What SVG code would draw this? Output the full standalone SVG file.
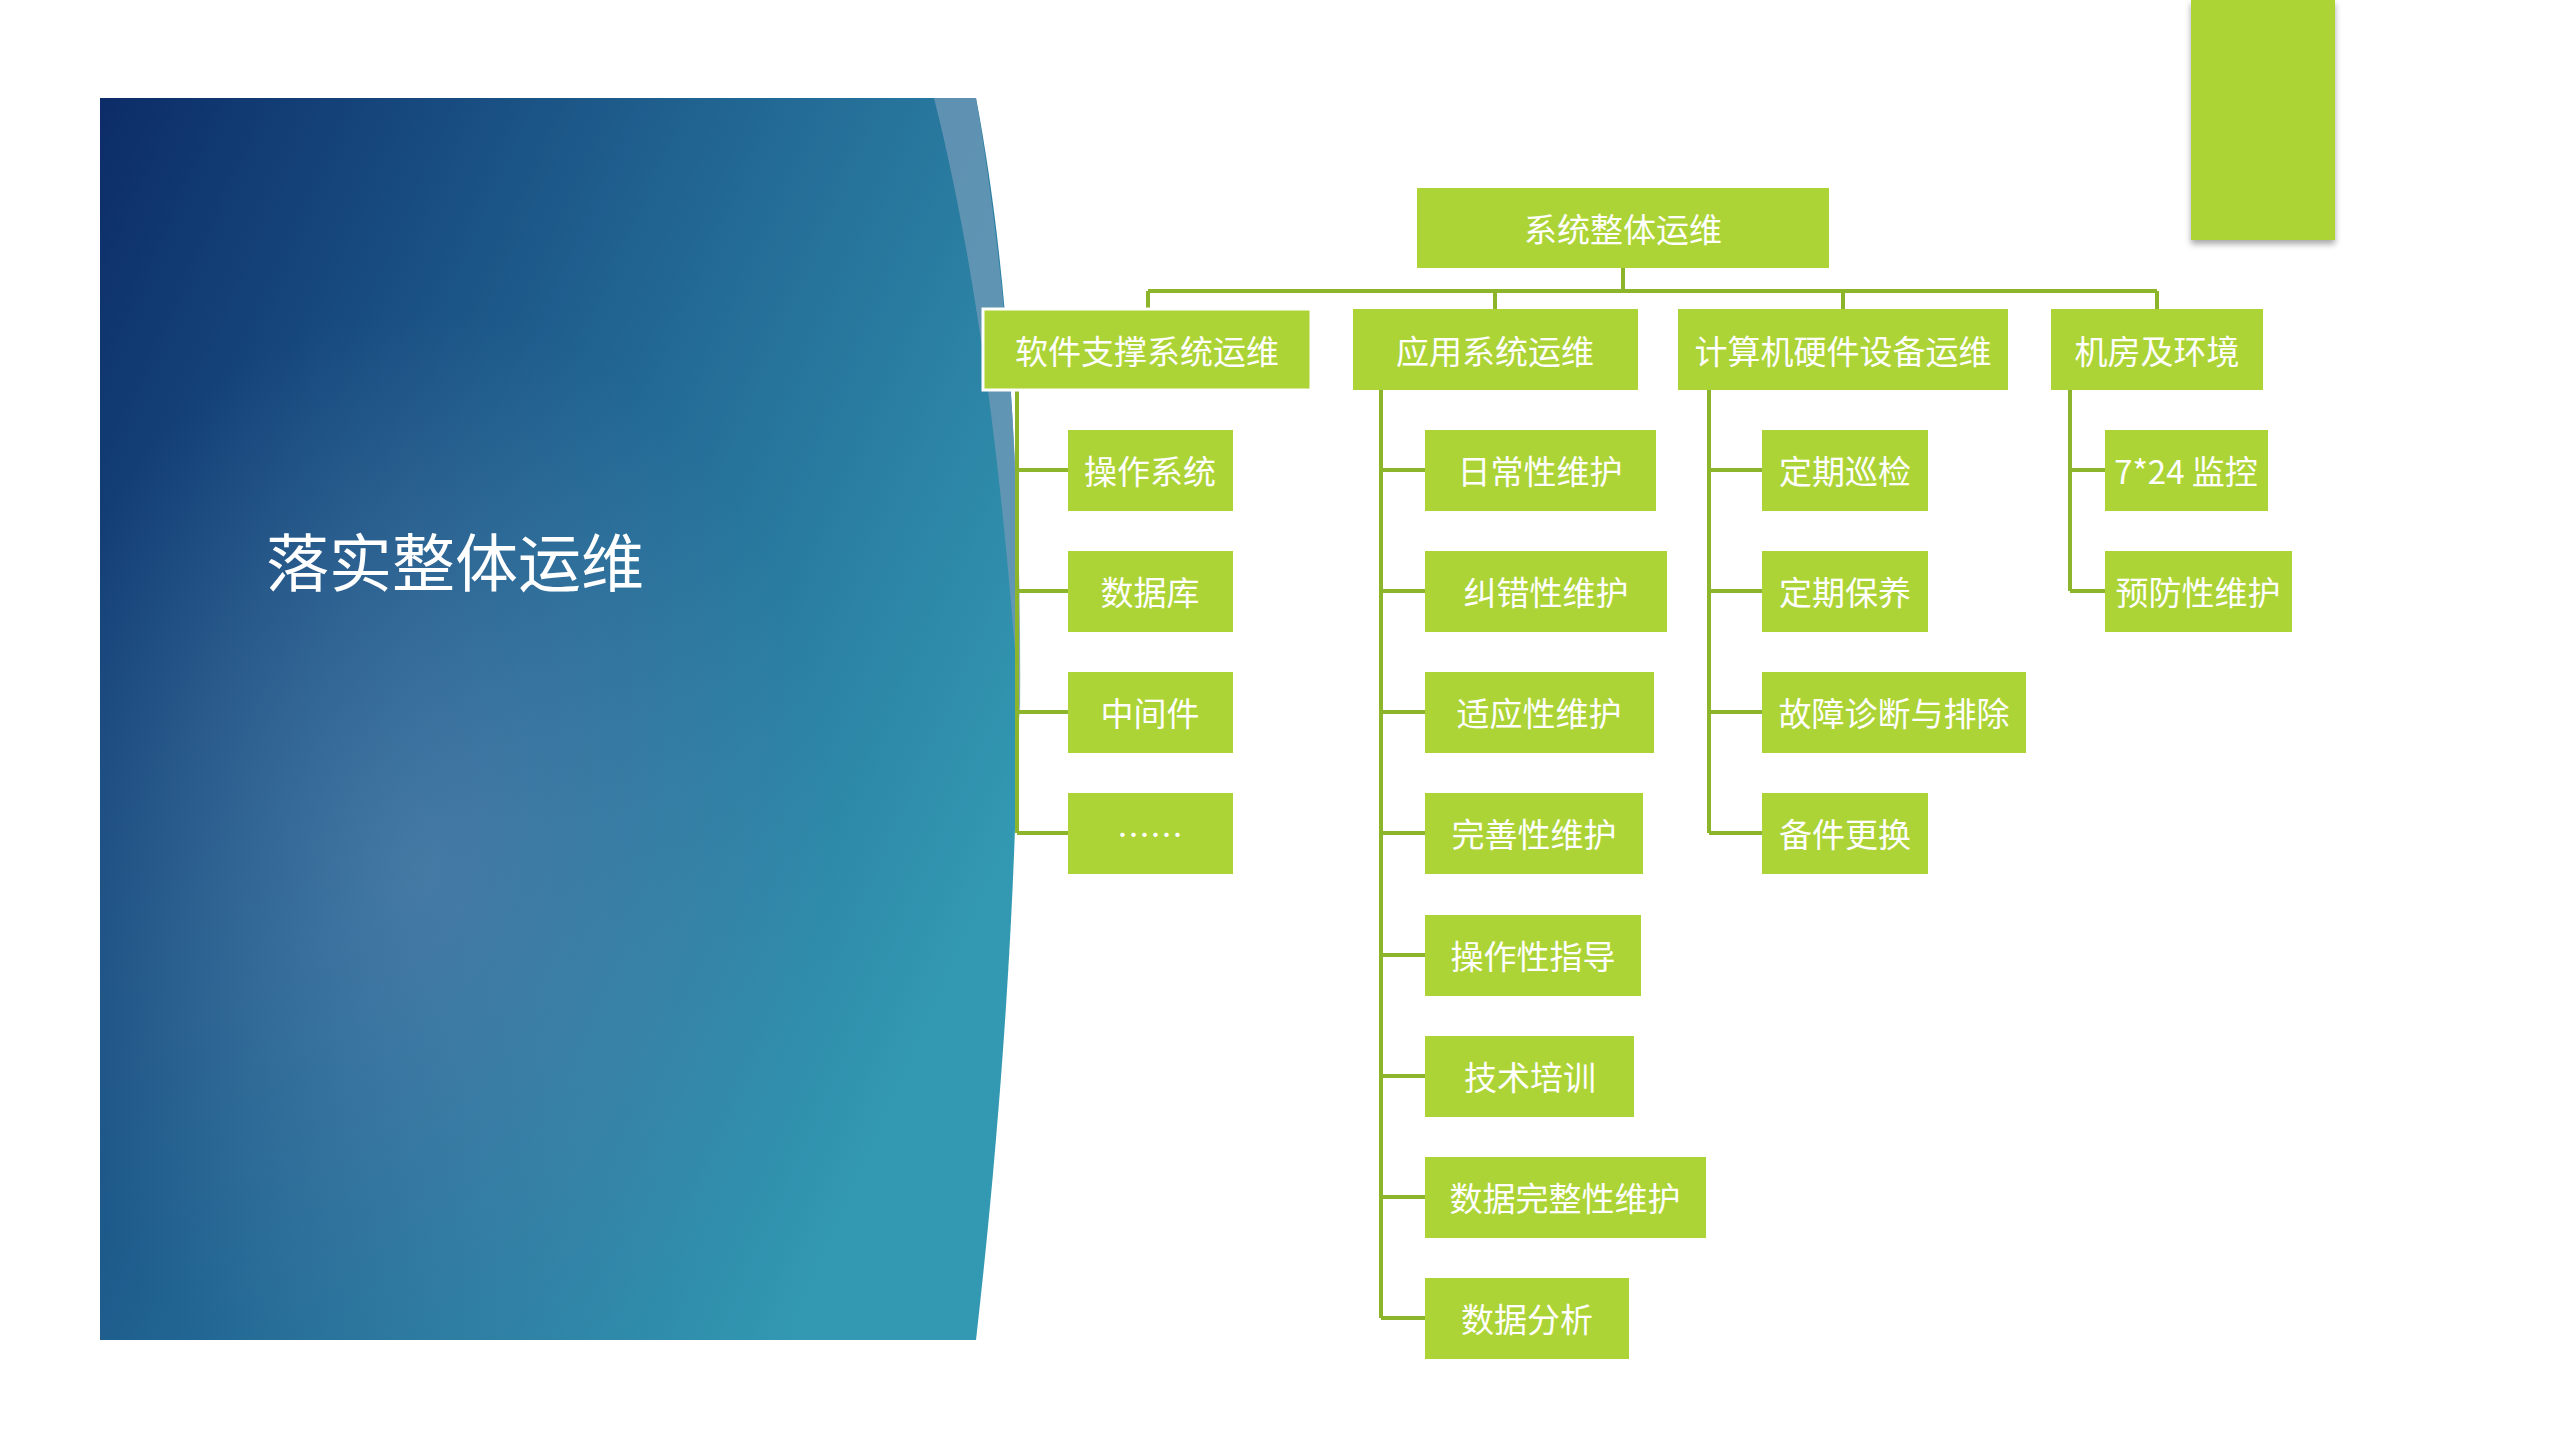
<svg xmlns="http://www.w3.org/2000/svg" width="2560" height="1440" viewBox="0 0 2560 1440">
<defs>
<linearGradient id="bg" x1="0" y1="0" x2="1" y2="0.6">
<stop offset="0" stop-color="#0c2c68"/>
<stop offset="0.55" stop-color="#236a96"/>
<stop offset="1" stop-color="#3399b2"/>
</linearGradient>
<radialGradient id="glow" cx="0.35" cy="0.62" r="0.45">
<stop offset="0" stop-color="#6f8fb8" stop-opacity="0.45"/>
<stop offset="1" stop-color="#6f8fb8" stop-opacity="0"/>
</radialGradient>
<filter id="sh" x="-20%" y="-20%" width="140%" height="140%"><feDropShadow dx="0" dy="4" stdDeviation="3" flood-color="#000" flood-opacity="0.35"/></filter>
<style>
.n{fill:#add436}
.t{fill:#fff;font-family:"Noto Sans CJK SC","Liberation Serif",serif;font-size:33px;text-anchor:middle;dominant-baseline:central}
.c{stroke:#8db52b;stroke-width:4;fill:none}
</style>
</defs>
<rect width="2560" height="1440" fill="#fff"/>
<path d="M100,98 L976,98 C1030,380 1035,820 976,1340 L100,1340 Z" fill="url(#bg)"/>
<path d="M100,98 L976,98 C1030,380 1035,820 976,1340 L100,1340 Z" fill="url(#glow)"/>
<path d="M934,98 L976,98 C1010,300 1022,500 1020,720 C1005,500 980,280 934,98 Z" fill="#6d98b6" opacity="0.8"/>
<text x="455" y="558" font-family="Noto Sans CJK SC, Liberation Serif, serif" font-size="63" fill="#fff" text-anchor="middle" dominant-baseline="central">落实整体运维</text>
<rect x="2191" y="0" width="144" height="240" fill="#add436" filter="url(#sh)"/>
<g id="connectors" class="c">
<path d="M1623,268 V291 M1148,291 H2157 M1148,291 V309 M1495,291 V309 M1843,291 V309 M2157,291 V309"/>
<path d="M1017,390 V833 M1017,470 H1068 M1017,591 H1068 M1017,712 H1068 M1017,833 H1068"/>
<path d="M1381,390 V1318 M1381,470 H1425 M1381,591 H1425 M1381,712 H1425 M1381,833 H1425 M1381,955 H1425 M1381,1076 H1425 M1381,1197 H1425 M1381,1318 H1425"/>
<path d="M1709,390 V833 M1709,470 H1762 M1709,591 H1762 M1709,712 H1762 M1709,833 H1762"/>
<path d="M2070,390 V591 M2070,470 H2105 M2070,591 H2105"/>
</g>
<g id="root"><rect class="n" x="1417" y="188" width="412" height="80"/><text class="t" x="1623" y="228">系统整体运维</text></g>
<g id="l1"><rect class="n" x="983" y="309" width="328" height="81" stroke="#fff" stroke-width="3"/><text class="t" x="1147" y="350">软件支撑系统运维</text></g>
<g id="l2"><rect class="n" x="1353" y="309" width="285" height="81"/><text class="t" x="1495" y="350">应用系统运维</text></g>
<g id="l3"><rect class="n" x="1678" y="309" width="330" height="81"/><text class="t" x="1843" y="350">计算机硬件设备运维</text></g>
<g id="l4"><rect class="n" x="2051" y="309" width="212" height="81"/><text class="t" x="2157" y="350">机房及环境</text></g>
<g id="a1"><rect class="n" x="1068" y="430" width="165" height="81"/><text class="t" x="1150" y="470">操作系统</text></g>
<g id="a2"><rect class="n" x="1068" y="551" width="165" height="81"/><text class="t" x="1150" y="591">数据库</text></g>
<g id="a3"><rect class="n" x="1068" y="672" width="165" height="81"/><text class="t" x="1150" y="712">中间件</text></g>
<g id="a4"><rect class="n" x="1068" y="793" width="165" height="81"/><text class="t" x="1150" y="833">……</text></g>
<g id="b1"><rect class="n" x="1425" y="430" width="231" height="81"/><text class="t" x="1540" y="470">日常性维护</text></g>
<g id="b2"><rect class="n" x="1425" y="551" width="242" height="81"/><text class="t" x="1546" y="591">纠错性维护</text></g>
<g id="b3"><rect class="n" x="1425" y="672" width="229" height="81"/><text class="t" x="1539" y="712">适应性维护</text></g>
<g id="b4"><rect class="n" x="1425" y="793" width="218" height="81"/><text class="t" x="1534" y="833">完善性维护</text></g>
<g id="b5"><rect class="n" x="1425" y="915" width="216" height="81"/><text class="t" x="1533" y="955">操作性指导</text></g>
<g id="b6"><rect class="n" x="1425" y="1036" width="209" height="81"/><text class="t" x="1530" y="1076">技术培训</text></g>
<g id="b7"><rect class="n" x="1425" y="1157" width="281" height="81"/><text class="t" x="1565" y="1197">数据完整性维护</text></g>
<g id="b8"><rect class="n" x="1425" y="1278" width="204" height="81"/><text class="t" x="1527" y="1318">数据分析</text></g>
<g id="c1"><rect class="n" x="1762" y="430" width="166" height="81"/><text class="t" x="1845" y="470">定期巡检</text></g>
<g id="c2"><rect class="n" x="1762" y="551" width="166" height="81"/><text class="t" x="1845" y="591">定期保养</text></g>
<g id="c3"><rect class="n" x="1762" y="672" width="264" height="81"/><text class="t" x="1894" y="712">故障诊断与排除</text></g>
<g id="c4"><rect class="n" x="1762" y="793" width="166" height="81"/><text class="t" x="1845" y="833">备件更换</text></g>
<g id="d1"><rect class="n" x="2105" y="430" width="163" height="81"/><text class="t" x="2186" y="470">7*24 监控</text></g>
<g id="d2"><rect class="n" x="2105" y="551" width="187" height="81"/><text class="t" x="2198" y="591">预防性维护</text></g>
</svg>
